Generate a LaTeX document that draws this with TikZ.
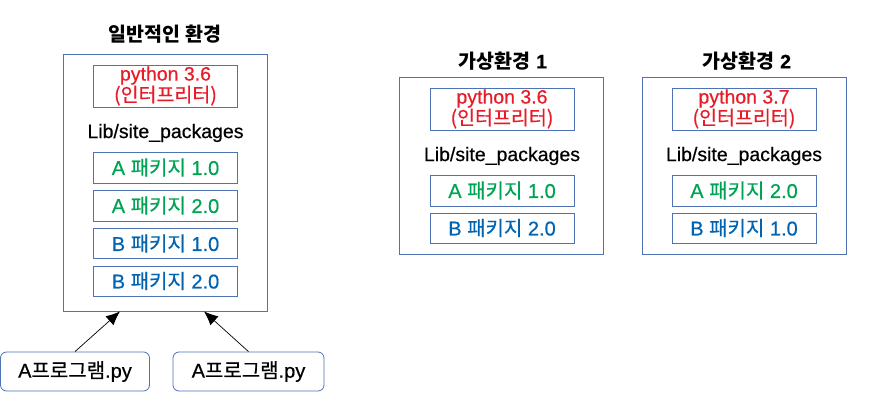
\documentclass[tikz,border=0pt]{standalone}
\usepackage{fontspec}
\setmainfont{Liberation Sans}[FakeBold=0.5]
\newfontfamily\kr{Noto Sans CJK KR}[FakeBold=0.5]
\newfontfamily\krb{Noto Sans CJK KR Bold}
\usetikzlibrary{arrows.meta,calc}
\definecolor{bordc}{RGB}{79,114,182}
\definecolor{pyred}{RGB}{232,28,40}
\definecolor{pkgreen}{RGB}{0,163,82}
\definecolor{pkblue}{RGB}{0,100,178}
\tikzset{
  envbox/.style={draw=bordc, line width=0.8pt, inner sep=0pt, minimum width=204pt},
  innerbox/.style={draw=bordc, line width=0.8pt, inner sep=0pt, minimum width=144pt, align=center},
  pybox/.style={innerbox, minimum height=42pt, text=pyred, font=\fontsize{19.5}{18}\selectfont},
  pkgA/.style={innerbox, minimum height=31pt, text=pkgreen, font=\fontsize{20}{22}\selectfont},
  pkgB/.style={innerbox, minimum height=30pt, text=pkblue, font=\fontsize{20}{22}\selectfont},
  libtext/.style={inner sep=0pt, font=\fontsize{19.5}{22}\selectfont},
  title/.style={inner sep=0pt, font=\fontsize{19.5}{22}\selectfont\bfseries},
  progbox/.style={draw=bordc, line width=0.8pt, rounded corners=6pt, inner sep=0pt, minimum height=39pt, font=\fontsize{20}{22}\selectfont},
  arr/.style={-{Latex[length=14pt,width=12pt]}, line width=0.7pt}
}
\begin{document}
\begin{tikzpicture}[x=1pt,y=-1pt]
\useasboundingbox (0,0) rectangle (876,409);
% left: general env
\node[title] (t0) at (165,34) {\krb 일반적인 환경};
\node[envbox, minimum height=257pt] (g) at (165,182.5) {};
\node[pybox] (gpy) at (165.5,86) {python 3.6\\{\kr (인터프리터)}};
\node[libtext] (glib) at (165.5,133) {Lib/site\_packages};
\node[pkgA] (ga1) at (165.5,167.5) {A {\kr 패키지} 1.0};
\node[pkgA] (ga2) at (165.5,205.5) {A {\kr 패키지} 2.0};
\node[pkgB] (gb1) at (165.5,243.5) {B {\kr 패키지} 1.0};
\node[pkgB] (gb2) at (165.5,281) {B {\kr 패키지} 2.0};
\node[progbox, minimum width=149pt] (p1) at (75,371.5) {A{\kr 프로그램}.py};
\node[progbox, minimum width=151pt] (p2) at (248.5,371.5) {A{\kr 프로그램}.py};
\coordinate (e1) at ($(g.south)+(-45,0)$);
\coordinate (e2) at ($(g.south)+(39,0)$);
\draw[arr] (p1.north) -- (e1);
\draw[arr] (p2.north) -- (e2);
% venv 1
\node[title] (t1) at (503,61) {{\krb 가상환경} 1};
\node[envbox, minimum height=177pt] (v1) at (501,165.5) {};
\node[pybox] (v1py) at (502,109) {python 3.6\\{\kr (인터프리터)}};
\node[libtext] (v1lib) at (502,156) {Lib/site\_packages};
\node[pkgA] (v1a) at (502,190.5) {A {\kr 패키지} 1.0};
\node[pkgB] (v1b) at (502,228) {B {\kr 패키지} 2.0};
% venv 2
\node[title] (t2) at (747,61) {{\krb 가상환경} 2};
\node[envbox, minimum height=177pt] (v2) at (744,165.5) {};
\node[pybox] (v2py) at (744,109) {python 3.7\\{\kr (인터프리터)}};
\node[libtext] (v2lib) at (744,156) {Lib/site\_packages};
\node[pkgA] (v2a) at (744,190.5) {A {\kr 패키지} 2.0};
\node[pkgB] (v2b) at (744,228) {B {\kr 패키지} 1.0};
\end{tikzpicture}
\end{document}
